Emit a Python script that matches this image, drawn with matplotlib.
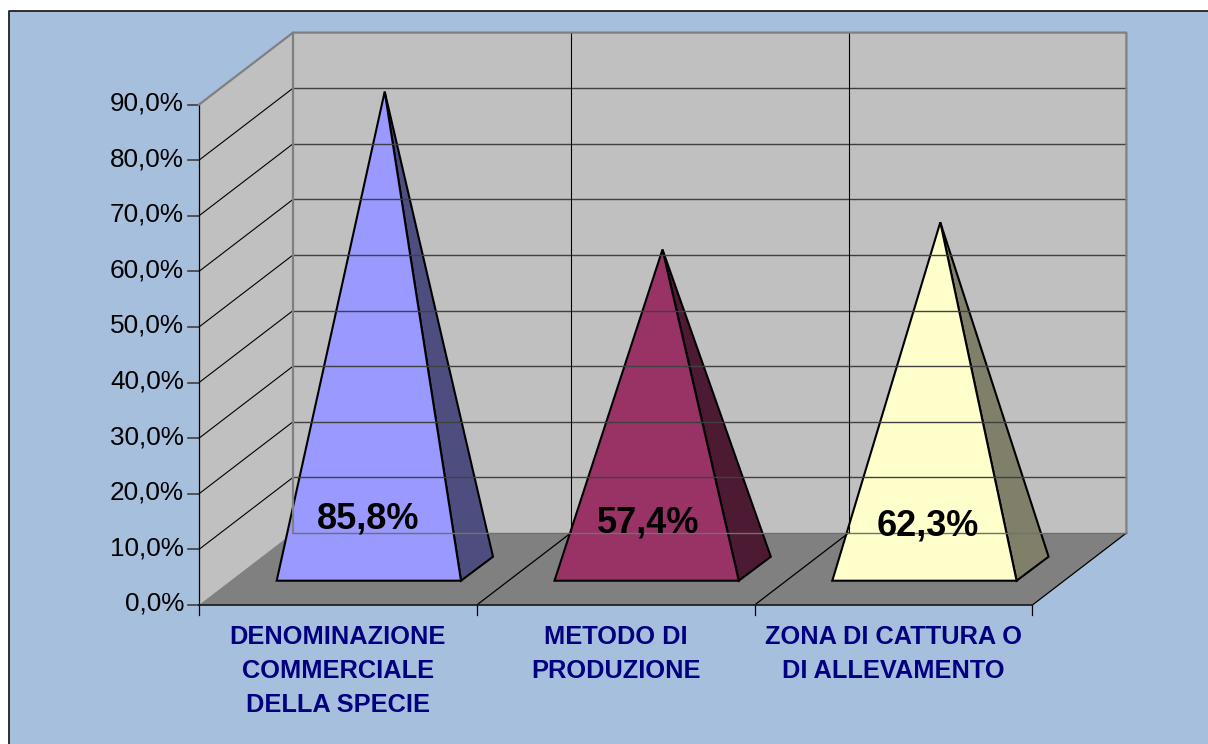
import matplotlib
matplotlib.use('Agg')
import matplotlib.pyplot as plt
from matplotlib.patches import Polygon

categories = ['DENOMINAZIONE\nCOMMERCIALE\nDELLA SPECIE', 'METODO DI\nPRODUZIONE', 'ZONA DI CATTURA O\nDI ALLEVAMENTO']
values = [85.8, 57.4, 62.3]
labels = ['85,8%', '57,4%', '62,3%']
front_colors = ['#9999ff', '#993366', '#ffffcc']
side_colors = ['#4d4d80', '#4d1a33', '#80806a']
ticks = [0, 10, 20, 30, 40, 50, 60, 70, 80, 90]
tick_labels = ['0,0%', '10,0%', '20,0%', '30,0%', '40,0%', '50,0%', '60,0%', '70,0%', '80,0%', '90,0%']

# plot geometry in pixels
x0, y0 = 199, 605
cat_w = 277.8
px_per_pct = 5.56
dx, dy = 94, -72
n = len(categories)
x1 = x0 + cat_w * n
ytop = y0 - 90 * px_per_pct

# the value labels are not quite centred in the original
label_dx = [91, 94, 96]
label_y = [519, 523, 526]

plt.rcParams['font.family'] = ['Liberation Sans', 'DejaVu Sans']
fig = plt.figure(figsize=(12.08, 7.44), dpi=100, facecolor='white')
ax = fig.add_axes([0, 0, 1, 1])
ax.set_xlim(0, 1208)
ax.set_ylim(744, 0)
ax.axis('off')

# chart area, only left and top border show
ax.add_patch(Polygon([(9, 11), (1208, 11), (1208, 744), (9, 744)], fc='#a6bfdd', ec='none'))
ax.plot([9, 9, 1208], [744, 11, 11], color='#202020', lw=1.3)

# walls and floor
ax.add_patch(Polygon([(x0 + dx, y0 + dy), (x1 + dx, y0 + dy), (x1 + dx, ytop + dy), (x0 + dx, ytop + dy)], fc='#c0c0c0', ec='none'))
ax.add_patch(Polygon([(x0, y0), (x0 + dx, y0 + dy), (x0 + dx, ytop + dy), (x0, ytop)], fc='#c0c0c0', ec='none'))
ax.add_patch(Polygon([(x0, y0), (x1, y0), (x1 + dx, y0 + dy), (x0 + dx, y0 + dy)], fc='#808080', ec='none'))

# gridlines
for t in ticks:
    y = y0 - t * px_per_pct
    if 0 < t < 90:
        ax.plot([x0, x0 + dx], [y, y + dy], color='black', lw=0.8)
        ax.plot([x0 + dx, x1 + dx], [y + dy, y + dy], color='#404040', lw=1)
    ax.plot([x0 - 11, x0], [y, y], color='#404040', lw=1.2)
    ax.text(x0 - 15, y - 1, tick_labels[t // 10], ha='right', va='center', fontsize=18.8, color='black')
for i in range(1, n):
    x = x0 + cat_w * i
    ax.plot([x + dx, x + dx], [y0 + dy, ytop + dy], color='black', lw=0.8)
for i in range(1, n + 1):
    x = x0 + cat_w * i
    ax.plot([x, x + dx], [y0, y0 + dy], color='black', lw=0.9)
for i in range(n + 1):
    x = x0 + cat_w * i
    ax.plot([x, x], [y0, y0 + 10], color='black', lw=0.9)

# edges of the box
ax.plot([x0, x0], [y0, ytop], color='black', lw=0.9)
ax.plot([x0 + dx, x0 + dx], [y0 + dy, ytop + dy], color='#808080', lw=1.6)
ax.plot([x0, x0 + dx, x1 + dx, x1 + dx], [ytop, ytop + dy, ytop + dy, y0 + dy], color='#808080', lw=1.6)
ax.plot([x0 + dx, x1 + dx], [y0 + dy, y0 + dy], color='#707070', lw=1)
ax.plot([x0, x1], [y0, y0], color='#202020', lw=1.3)

# pyramids
for i in range(n):
    left = x0 + cat_w * i + 77.7
    right = left + 184.3
    base = 580.7
    apex = (left + 108, base - 12 - values[i] * px_per_pct)
    ax.add_patch(Polygon([(right, base), (right + 32, base - 24), apex], fc=side_colors[i], ec='black', lw=1.5, joinstyle='miter'))
    ax.add_patch(Polygon([(left, base), (right, base), apex], fc=front_colors[i], ec='black', lw=1.5, joinstyle='miter'))
    ax.text(left + label_dx[i], label_y[i], labels[i], ha='center', va='center', fontsize=26, fontweight='bold', color='black')
    ax.text(x0 + cat_w * (i + 0.5), 625.5, categories[i], ha='center', va='top', fontsize=18.3,
            fontweight='bold', color='#000080', linespacing=1.5)

fig.savefig('out.png', dpi=100, facecolor='white')
